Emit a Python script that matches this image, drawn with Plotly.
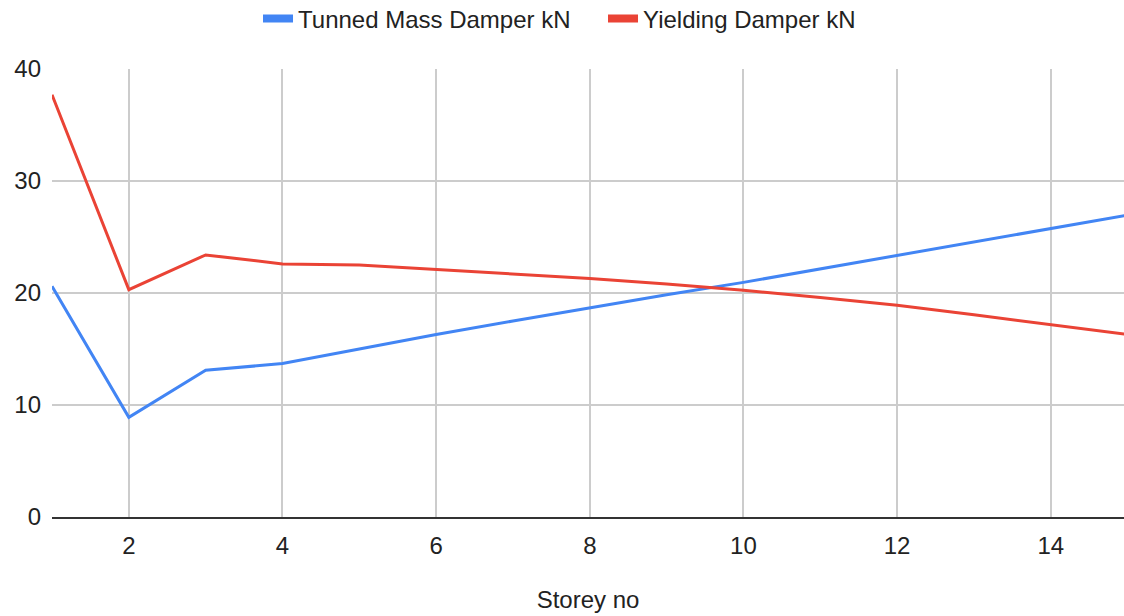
import plotly.graph_objects as go

storey = [1, 2, 3, 4, 5, 6, 7, 8, 9, 10, 11, 12, 13, 14, 15]
tmd_kn = [20.6, 8.9, 13.1, 13.7, 15.0, 16.3, 17.5, 18.7, 19.85, 20.95, 22.15, 23.37, 24.55, 25.78, 26.96]
yielding_kn = [37.7, 20.3, 23.4, 22.6, 22.5, 22.1, 21.7, 21.3, 20.8, 20.25, 19.6, 18.9, 18.05, 17.15, 16.3]
series_names = ["Tunned Mass Damper kN", "Yielding Damper kN"]
x_ticks = [2, 4, 6, 8, 10, 12, 14]
y_ticks = [0, 10, 20, 30, 40]

BLUE = "#4285F4"
RED = "#EA4335"
FONT = "Liberation Sans, Arial, sans-serif"

fig = go.Figure()
for vals, name, col in [(tmd_kn, series_names[0], BLUE), (yielding_kn, series_names[1], RED)]:
    fig.add_trace(go.Scatter(x=storey, y=vals, mode="lines", name=name,
                             line=dict(color=col, width=3), showlegend=False))
for name, col in [(series_names[0], BLUE), (series_names[1], RED)]:
    fig.add_trace(go.Scatter(x=[None], y=[None], mode="lines", name=name,
                             line=dict(color=col, width=8), showlegend=True))

fig.update_layout(
    width=1124, height=616,
    margin=dict(l=52, r=0, t=69, b=99, autoexpand=False),
    paper_bgcolor="white", plot_bgcolor="white",
    font=dict(family=FONT, size=24, color="#222222"),
    legend=dict(orientation="h", x=0.514, xanchor="center", y=1.112, yanchor="middle",
                font=dict(size=24, color="#222222"), tracegroupgap=0,
                entrywidth=300, entrywidthmode="pixels"),
    showlegend=True,
)
fig.update_xaxes(range=[1, 14.953], tickvals=x_ticks, showgrid=True, gridcolor="#cccccc",
                 gridwidth=1.5, zeroline=False, showline=True, linecolor="#333333", linewidth=1.5,
                 ticks="", ticklabelstandoff=6,
                 title=dict(text="Storey no", standoff=34, font=dict(size=24, color="#222222")))
fig.update_yaxes(range=[0, 40], tickvals=y_ticks, showgrid=True, gridcolor="#cccccc",
                 gridwidth=1.5, zeroline=False, showline=False, ticks="", ticklabelstandoff=10)

fig.write_html("out.html")
